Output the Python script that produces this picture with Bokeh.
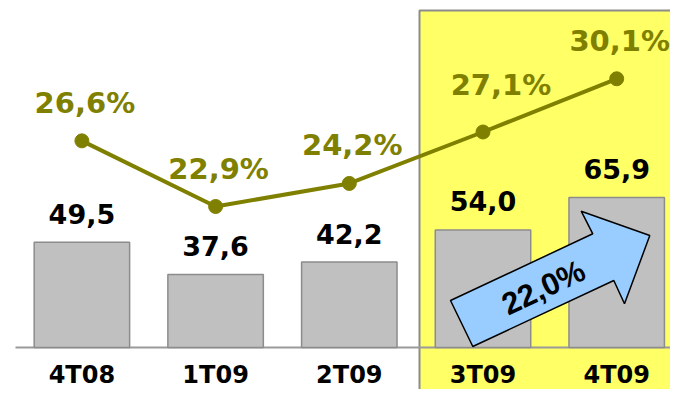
from bokeh.plotting import figure
from bokeh.models import Range1d, ColumnDataSource
from bokeh.core.properties import value
from bokeh.embed import file_html
from bokeh.resources import INLINE

# ---------------- data ----------------
quarters = ["4T08", "1T09", "2T09", "3T09", "4T09"]
revenue = [49.5, 37.6, 42.2, 54.0, 65.9]        # bars
margin_pct = [26.6, 22.9, 24.2, 27.1, 30.1]     # line (%)
highlight_first = "3T09"                         # highlighted period starts here

# ---------------- layout / style ----------------
W, H = 670, 389
X0_PX, DX_PX = 81.4, 133.7  # pixel position of first category and spacing
Y_MIN = 10.8                # value axis minimum (bar base)
BASE_PX = 347               # pixel y of the axis line
Y_PPU = 2.721               # px per unit for bars
P_PPU = 17.74               # px per unit for the percentage line
P_REF, P_REF_PX = 22.9, 206

x_start = -X0_PX / DX_PX
x_end = x_start + W / DX_PX
y_start = Y_MIN - (H - BASE_PX) / Y_PPU
y_end = y_start + H / Y_PPU
p_start = P_REF - (H - P_REF_PX) / P_PPU
p_end = p_start + H / P_PPU


def dx(px):
    return (px - X0_PX) / DX_PX


def dy(py):
    return y_start + (H - py) / Y_PPU


def fmt(v, suffix=""):
    return f"{v:.1f}".replace(".", ",") + suffix


FONT = value("DejaVu Sans")
OLIVE = "#808000"

idx = list(range(len(quarters)))
src = ColumnDataSource(dict(
    x=idx,
    cat=quarters,
    rev=revenue,
    rev_lbl=[fmt(v) for v in revenue],
    pct=margin_pct,
    pct_lbl=[fmt(v, "%") for v in margin_pct],
    base=[Y_MIN] * len(quarters),
    # label nudges (screen px)
    pct_dx=[3, 3, 3, 18, 3],
    pct_dy=[-37.5, -37.5, -38, -46.5, -37.5],
))

p = figure(width=W, height=H, output_backend="svg", toolbar_location=None,
           x_range=Range1d(x_start, x_end), y_range=Range1d(y_start, y_end),
           min_border=0, outline_line_color=None)
p.extra_y_ranges = {"pct": Range1d(p_start, p_end)}
p.axis.visible = False
p.grid.visible = False
p.background_fill_color = "white"
p.border_fill_color = "white"

# highlighted region
h0 = quarters.index(highlight_first)
p.quad(left=[dx(419)], right=[x_end + 1], bottom=[y_start - 50], top=[dy(10)],
       fill_color="#FFFF66", line_color="#8C8C8C", line_width=2)

# axis line
p.segment(x0=[dx(15)], x1=[x_end + 1], y0=[Y_MIN], y1=[Y_MIN],
          line_color="#9A9A9A", line_width=2)

# bars
p.vbar(x="x", width=0.714, bottom="base", top="rev", source=src,
       fill_color="#C0C0C0", line_color="#8C8C8C", line_width=1.5)

# bar labels
p.text(x="x", y="rev", text="rev_lbl", source=src, text_align="center",
       text_baseline="middle", y_offset=-28.5, text_font=FONT,
       text_font_style="bold", text_font_size="27px", text_color="black")

# category labels
p.text(x="x", y="base", text="cat", source=src, text_align="center",
       text_baseline="middle", y_offset=27, text_font=FONT,
       text_font_style="bold", text_font_size="24px", text_color="black")

# margin line
p.line(x="x", y="pct", source=src, y_range_name="pct",
       line_color=OLIVE, line_width=4)
p.scatter(x="x", y="pct", source=src, y_range_name="pct", size=14,
          fill_color=OLIVE, line_color=OLIVE)
p.text(x="x", y="pct", text="pct_lbl", source=src, y_range_name="pct",
       text_align="center", text_baseline="middle",
       x_offset="pct_dx", y_offset="pct_dy", text_font=FONT,
       text_font_style="bold", text_font_size="29px", text_color=OLIVE)

# growth arrow between the last two quarters
arrow_px = [(450, 300), (592.3, 233.3), (580.7, 210.7), (649.3, 235),
            (624, 303.3), (613.3, 280), (472.3, 346)]
p.patch(x=[dx(a) for a, b in arrow_px], y=[dy(b) for a, b in arrow_px],
        fill_color="#99CCFF", line_color="black", line_width=1.5)
growth = (revenue[-1] / revenue[-2] - 1) * 100
p.text(x=[dx(543)], y=[dy(287)], text=[fmt(growth, "%")], angle=0.44,
       text_align="center", text_baseline="middle",
       text_font=value("Liberation Sans"), text_font_style="bold",
       text_font_size="31px", text_color="black")

open("out.html", "w").write(file_html(p, INLINE))
